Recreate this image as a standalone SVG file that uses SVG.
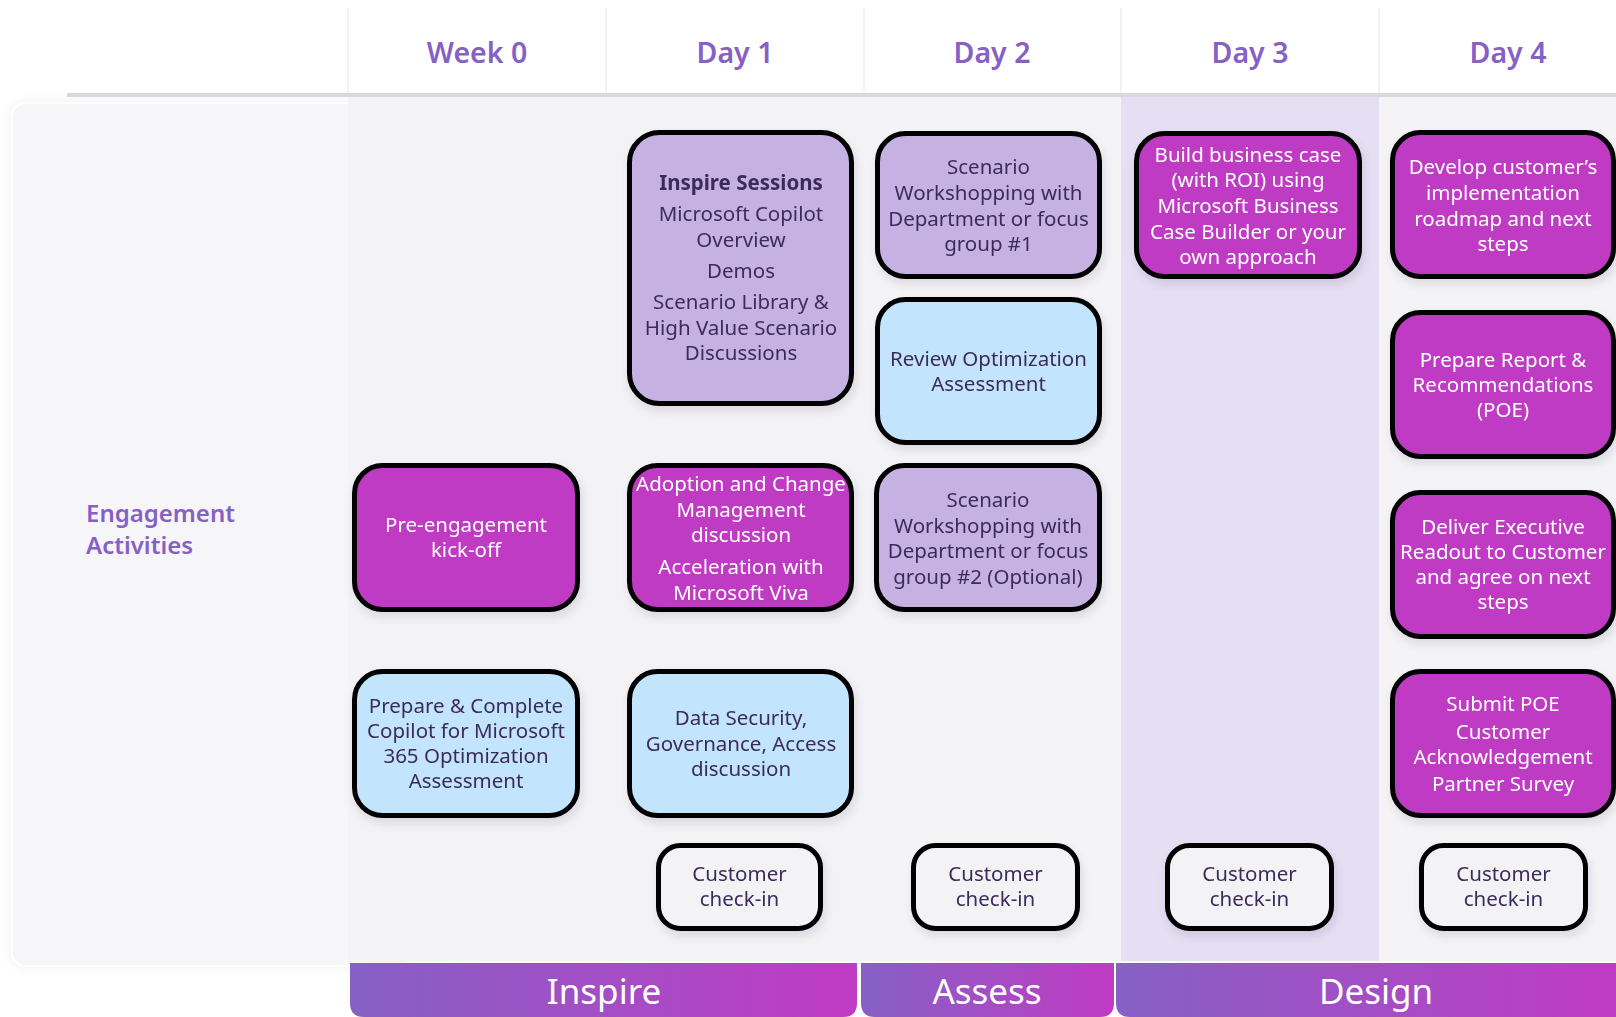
<svg xmlns="http://www.w3.org/2000/svg" width="1616" height="1017" viewBox="0 0 1616 1017">
<defs>
<linearGradient id="phase" x1="0" y1="0" x2="1" y2="0">
<stop offset="0" stop-color="#8661c5"/>
<stop offset="1" stop-color="#c03bc4"/>
</linearGradient>
<filter id="sh" x="-10%" y="-10%" width="125%" height="130%">
<feDropShadow dx="2" dy="5" stdDeviation="4" flood-color="#3a2a60" flood-opacity="0.14"/>
</filter>
<filter id="panelsh" x="-10%" y="-5%" width="120%" height="110%">
<feDropShadow dx="0" dy="0" stdDeviation="6" flood-color="#000" flood-opacity="0.06"/>
</filter>
<style>
.hdr{font-family:"Noto Sans","Open Sans",sans-serif;font-weight:600;font-size:28.5px;fill:#8661c5;text-anchor:middle}
.lane{font-family:"Noto Sans","Open Sans",sans-serif;font-weight:600;font-size:24px;fill:#8661c5}
.phase{font-family:"Noto Sans","Open Sans",sans-serif;font-size:35px;fill:#ffffff;text-anchor:middle}
.box{stroke:#000;stroke-width:5}
.lav{fill:#c5b2e2}
.blue{fill:#c2e4fc}
.mag{fill:#c03bc4}
.chk{fill:#f3f3f6}
.t{font-family:"Noto Sans","Open Sans",sans-serif;font-size:20.5px;text-anchor:middle;fill:#3b2c5a}
.tw{font-family:"Noto Sans","Open Sans",sans-serif;font-size:20.5px;text-anchor:middle;fill:#ffffff}
.b{font-weight:700}
</style>
</defs>

<rect x="0" y="0" width="1616" height="1017" fill="#ffffff"/>

<!-- left panel -->
<rect x="12" y="103" width="400" height="863" rx="14" fill="#f6f6f8" stroke="#ffffff" stroke-width="2" filter="url(#panelsh)"/>

<!-- header separators -->
<g stroke="#eeeef2" stroke-width="1.5">
<line x1="348" y1="8" x2="348" y2="95"/>
<line x1="606" y1="8" x2="606" y2="95"/>
<line x1="864" y1="8" x2="864" y2="95"/>
<line x1="1121" y1="8" x2="1121" y2="95"/>
<line x1="1379" y1="8" x2="1379" y2="95"/>
</g>

<!-- day columns -->
<rect x="348" y="97" width="258" height="864" fill="#f3f3f5"/>
<rect x="606" y="97" width="258" height="864" fill="#f3f3f5"/>
<rect x="864" y="97" width="257" height="864" fill="#f4f4f6"/>
<rect x="1121" y="97" width="258" height="864" fill="#e6dff3"/>
<rect x="1379" y="97" width="237" height="864" fill="#f4f4f6"/>

<!-- header line -->
<rect x="67" y="93" width="1549" height="4" fill="#d9d8e1"/>

<!-- headers -->
<text class="hdr" x="477" y="63">Week 0</text>
<text class="hdr" x="735" y="63">Day 1</text>
<text class="hdr" x="992" y="63">Day 2</text>
<text class="hdr" x="1250" y="63">Day 3</text>
<text class="hdr" x="1508" y="63">Day 4</text>

<text class="lane" x="86" y="522">Engagement<tspan x="86" y="554">Activities</tspan></text>

<g id="connectors"/>

<!-- Week 0 -->
<g id="pre-engagement" filter="url(#sh)">
<rect class="box mag" x="354.5" y="465.5" width="223" height="144" rx="28"/>
<text class="tw" x="466" y="531.5">Pre-engagement<tspan x="466" y="556.5">kick-off</tspan></text>
</g>
<g id="prepare-complete" filter="url(#sh)">
<rect class="box blue" x="354.5" y="671.5" width="223" height="144" rx="28"/>
<text class="t" x="466" y="712.5">Prepare &amp; Complete<tspan x="466" y="737.5">Copilot for Microsoft</tspan><tspan x="466" y="762.5">365 Optimization</tspan><tspan x="466" y="787.5">Assessment</tspan></text>
</g>

<!-- Day 1 -->
<g id="inspire-sessions" filter="url(#sh)">
<rect class="box lav" x="629.5" y="132.5" width="222" height="271" rx="30"/>
<text class="t b" x="741" y="190">Inspire Sessions</text>
<text class="t" x="741" y="221">Microsoft Copilot<tspan x="741" y="247">Overview</tspan></text>
<text class="t" x="741" y="278">Demos</text>
<text class="t" x="741" y="309">Scenario Library &amp;<tspan x="741" y="335">High Value Scenario</tspan><tspan x="741" y="360">Discussions</tspan></text>
</g>
<g id="adoption-change" filter="url(#sh)">
<rect class="box mag" x="629.5" y="465.5" width="222" height="144" rx="28"/>
<text class="tw" x="741" y="491">Adoption and Change<tspan x="741" y="517">Management</tspan><tspan x="741" y="542">discussion</tspan></text>
<text class="tw" x="741" y="574">Acceleration with<tspan x="741" y="600">Microsoft Viva</tspan></text>
</g>
<g id="data-security" filter="url(#sh)">
<rect class="box blue" x="629.5" y="671.5" width="222" height="144" rx="28"/>
<text class="t" x="741" y="725">Data Security,<tspan x="741" y="751">Governance, Access</tspan><tspan x="741" y="776">discussion</tspan></text>
</g>
<g id="checkin-day1" filter="url(#sh)">
<rect class="box chk" x="658.5" y="845.5" width="162" height="83" rx="22"/>
<text class="t" x="739.5" y="880.5">Customer<tspan x="739.5" y="905.5">check-in</tspan></text>
</g>

<!-- Day 2 -->
<g id="scenario-1" filter="url(#sh)">
<rect class="box lav" x="877.5" y="133.5" width="222" height="143" rx="28"/>
<text class="t" x="988.5" y="174">Scenario<tspan x="988.5" y="200">Workshopping with</tspan><tspan x="988.5" y="225.5">Department or focus</tspan><tspan x="988.5" y="251">group #1</tspan></text>
</g>
<g id="review-optimization" filter="url(#sh)">
<rect class="box blue" x="877.5" y="299.5" width="222" height="143" rx="28"/>
<text class="t" x="988.5" y="365.5">Review Optimization<tspan x="988.5" y="390.5">Assessment</tspan></text>
</g>
<g id="scenario-2" filter="url(#sh)">
<rect class="box lav" x="876.5" y="465.5" width="223" height="144" rx="28"/>
<text class="t" x="988" y="507">Scenario<tspan x="988" y="533">Workshopping with</tspan><tspan x="988" y="558">Department or focus</tspan><tspan x="988" y="584">group #2 (Optional)</tspan></text>
</g>
<g id="checkin-day2" filter="url(#sh)">
<rect class="box chk" x="913.5" y="845.5" width="164" height="83" rx="22"/>
<text class="t" x="995.5" y="880.5">Customer<tspan x="995.5" y="905.5">check-in</tspan></text>
</g>

<!-- Day 3 -->
<g id="business-case" filter="url(#sh)">
<rect class="box mag" x="1136.5" y="133.5" width="223" height="143" rx="28"/>
<text class="tw" x="1248" y="162">Build business case<tspan x="1248" y="187">(with ROI) using</tspan><tspan x="1248" y="213">Microsoft Business</tspan><tspan x="1248" y="239">Case Builder or your</tspan><tspan x="1248" y="264">own approach</tspan></text>
</g>
<g id="checkin-day3" filter="url(#sh)">
<rect class="box chk" x="1167.5" y="845.5" width="164" height="83" rx="22"/>
<text class="t" x="1249.5" y="880.5">Customer<tspan x="1249.5" y="905.5">check-in</tspan></text>
</g>

<!-- Day 4 -->
<g id="roadmap" filter="url(#sh)">
<rect class="box mag" x="1392.5" y="132.5" width="221" height="144" rx="28"/>
<text class="tw" x="1503" y="174">Develop customer’s<tspan x="1503" y="200">implementation</tspan><tspan x="1503" y="225.5">roadmap and next</tspan><tspan x="1503" y="251">steps</tspan></text>
</g>
<g id="prepare-report" filter="url(#sh)">
<rect class="box mag" x="1392.5" y="312.5" width="221" height="144" rx="28"/>
<text class="tw" x="1503" y="366.5">Prepare Report &amp;<tspan x="1503" y="391.5">Recommendations</tspan><tspan x="1503" y="416.5">(POE)</tspan></text>
</g>
<g id="executive-readout" filter="url(#sh)">
<rect class="box mag" x="1392.5" y="492.5" width="221" height="144" rx="28"/>
<text class="tw" x="1503" y="533.5">Deliver Executive<tspan x="1503" y="558.5">Readout to Customer</tspan><tspan x="1503" y="583.5">and agree on next</tspan><tspan x="1503" y="608.5">steps</tspan></text>
</g>
<g id="submit-poe" filter="url(#sh)">
<rect class="box mag" x="1392.5" y="671.5" width="221" height="144" rx="28"/>
<text class="tw" x="1503" y="711">Submit POE</text>
<text class="tw" x="1503" y="738.5">Customer<tspan x="1503" y="763.5">Acknowledgement</tspan></text>
<text class="tw" x="1503" y="791">Partner Survey</text>
</g>
<g id="checkin-day4" filter="url(#sh)">
<rect class="box chk" x="1421.5" y="845.5" width="164" height="83" rx="22"/>
<text class="t" x="1503.5" y="880.5">Customer<tspan x="1503.5" y="905.5">check-in</tspan></text>
</g>

<!-- phase bars -->
<g id="phase-inspire">
<path d="M350 963 H857 V1003 Q857 1017 843 1017 H364 Q350 1017 350 1003 Z" fill="url(#phase)"/>
<text class="phase" x="604" y="1004">Inspire</text>
</g>
<g id="phase-assess">
<path d="M861 963 H1114 V1003 Q1114 1017 1100 1017 H875 Q861 1017 861 1003 Z" fill="url(#phase)"/>
<text class="phase" x="987" y="1004">Assess</text>
</g>
<g id="phase-design">
<path d="M1116 963 H1616 V1017 H1130 Q1116 1017 1116 1003 Z" fill="url(#phase)"/>
<text class="phase" x="1376" y="1004">Design</text>
</g>
</svg>
